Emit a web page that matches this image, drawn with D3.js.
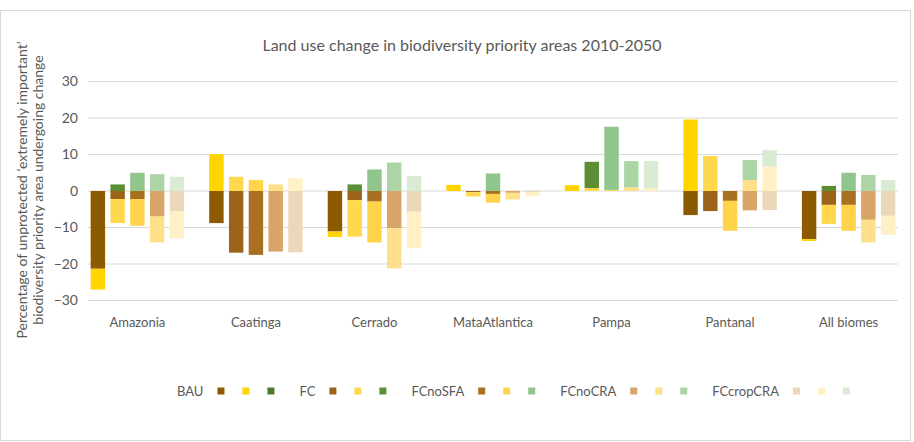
<html>
  <head>
    <meta charset="utf-8">
    <script src="https://d3js.org/d3.v7.min.js"></script>
    <style>
      body { margin: 0; background: #fff; }
      text { font-family: Lato, "Open Sans", sans-serif; fill: #595959; }
    </style>
  </head>

  <body>
    <svg id="vis"></svg>
  </body>

  <script>
    // Chart data (percent of area), one array per scenario and component, in biome order
    var biomes = ["Amazonia", "Caatinga", "Cerrado", "MataAtlantica", "Pampa", "Pantanal", "All biomes"]
    var scenarios = ["BAU", "FC", "FCnoSFA", "FCnoCRA", "FCcropCRA"]
    var components = ["cropland", "pasture", "vegetation"]
    var yTicks = [-30, -20, -10, 0, 10, 20, 30]

    var BAU_cropland       = [-21.3, -8.8, -11.1, 0, 0, -6.6, -13.2]
    var BAU_pasture        = [-5.7, 10.1, -1.5, 1.7, 1.6, 19.6, -0.5]
    var BAU_vegetation     = [0, 0, 0, 0, 0, 0, 0]

    var FC_cropland        = [-2.2, -16.9, -2.5, -0.3, 0, -5.5, -3.8]
    var FC_pasture         = [-6.6, 3.9, -10.0, -1.2, 0.8, 9.6, -5.2]
    var FC_vegetation      = [1.8, 0, 1.8, 0, 7.2, 0, 1.4]

    var FCnoSFA_cropland   = [-2.2, -17.5, -2.9, -0.8, 0, -2.7, -3.8]
    var FCnoSFA_pasture    = [-7.3, 3.0, -11.2, -2.4, 0.3, -8.2, -7.1]
    var FCnoSFA_vegetation = [5.0, 0, 5.9, 4.8, 17.3, 0, 5.0]

    var FCnoCRA_cropland   = [-7.0, -16.6, -10.2, -0.5, 0, -5.3, -7.9]
    var FCnoCRA_pasture    = [-7.1, 1.8, -11.0, -1.8, 1.0, 3.0, -6.2]
    var FCnoCRA_vegetation = [4.6, 0, 7.8, 0, 7.2, 5.5, 4.4]

    var FCcropCRA_cropland   = [-5.5, -16.8, -5.7, -0.3, 0, -5.2, -6.8]
    var FCcropCRA_pasture    = [-7.5, 3.5, -10.0, -1.1, 0.8, 6.7, -5.2]
    var FCcropCRA_vegetation = [3.9, 0, 4.1, 0, 7.4, 4.5, 3.0]

    var values = {
      BAU:       [BAU_cropland, BAU_pasture, BAU_vegetation],
      FC:        [FC_cropland, FC_pasture, FC_vegetation],
      FCnoSFA:   [FCnoSFA_cropland, FCnoSFA_pasture, FCnoSFA_vegetation],
      FCnoCRA:   [FCnoCRA_cropland, FCnoCRA_pasture, FCnoCRA_vegetation],
      FCcropCRA: [FCcropCRA_cropland, FCcropCRA_pasture, FCcropCRA_vegetation]
    }

    // colours: scenario -> [cropland, pasture, vegetation]
    var colors = {
      BAU:       ["#8c5a00", "#ffd400", "#4f7a28"],
      FC:        ["#9b6418", "#ffd84e", "#5c8f35"],
      FCnoSFA:   ["#a87020", "#ffd34a", "#90c68b"],
      FCnoCRA:   ["#d9a468", "#ffe08a", "#acd5a6"],
      FCcropCRA: ["#ebd8bb", "#fff0c6", "#d9ebd3"]
    }

    var width = 914, height = 442
    var plot = {left: 88, right: 898, top: 81.5, bottom: 300.5}

    var svg = d3.select('svg')
      .attr("width", width)
      .attr("height", height)

    // chart area border
    svg.append("rect")
      .attr("x", 0.5).attr("y", 10.5)
      .attr("width", 910).attr("height", 430)
      .attr("fill", "none")
      .attr("stroke", "#d9d9d9")

    // one row per bar
    var rows = []
    biomes.forEach(function(b, i) {
      scenarios.forEach(function(s) {
        var row = {key: b + "|" + s, biome: b, scenario: s}
        components.forEach(function(c, k) { row[c] = values[s][k][i] })
        rows.push(row)
      })
    })

    // x slots: 5 bars per biome plus one empty slot between biomes
    var slots = []
    biomes.forEach(function(b, i) {
      scenarios.forEach(function(s) { slots.push(b + "|" + s) })
      if (i < biomes.length - 1) slots.push("gap" + i)
    })

    var x = d3.scaleBand()
      .domain(slots)
      .range([plot.left, plot.right])
      .paddingInner(0.27)
      .paddingOuter(0.135)

    var y = d3.scaleLinear().domain([-30, 30]).range([plot.bottom, plot.top])

    // gridlines
    svg.append("g")
      .selectAll("line")
      .data(yTicks)
      .join("line")
      .attr("x1", plot.left).attr("x2", plot.right)
      .attr("y1", function(d) { return y(d) }).attr("y2", function(d) { return y(d) })
      .attr("stroke", "#d9d9d9")
      .attr("stroke-width", 1)

    // y axis labels
    var yAxis = svg.append("g")
      .attr("transform", "translate(" + (plot.left - 10) + ",0)")
      .call(d3.axisLeft(y).tickValues(yTicks).tickSize(0).tickPadding(0))
    yAxis.select(".domain").remove()
    yAxis.selectAll("text")
      .style("font-family", "Lato, sans-serif")
      .style("font-size", "14px")
      .attr("fill", "#595959")

    // stacked bars
    var stack = d3.stack().keys(components).offset(d3.stackOffsetDiverging)
    var series = stack(rows)

    var barsGroup = svg.append("g").attr("class", "bars")
    series.forEach(function(layer, k) {
      barsGroup.selectAll("rect.c" + k)
        .data(layer)
        .join("rect")
        .attr("class", "c" + k)
        .attr("x", function(d) { return x(d.data.key) })
        .attr("width", x.bandwidth())
        .attr("y", function(d) { return y(Math.max(d[0], d[1])) })
        .attr("height", function(d) { return Math.abs(y(d[0]) - y(d[1])) })
        .attr("fill", function(d) { return colors[d.data.scenario][k] })
    })

    // biome labels, centred under each group of bars
    svg.append("g")
      .selectAll("text")
      .data(biomes)
      .join("text")
      .attr("x", function(b) {
        return (x(b + "|" + scenarios[0]) + x(b + "|" + scenarios[scenarios.length - 1]) + x.bandwidth()) / 2
      })
      .attr("y", 327)
      .attr("text-anchor", "middle")
      .style("font-size", "13px")
      .text(function(b) { return b })

    // title
    svg.append("text")
      .attr("x", 462)
      .attr("y", 51)
      .attr("text-anchor", "middle")
      .style("font-size", "16px")
      .text("Land use change in biodiversity priority areas 2010-2050")

    // y axis title (two lines)
    var yTitle = ["Percentage of unprotected 'extremely important'", "biodiversity priority area undergoing change"]
    svg.append("g")
      .selectAll("text")
      .data(yTitle)
      .join("text")
      .attr("transform", function(d, i) { return "translate(" + (27 + i * 16) + ",190) rotate(-90)" })
      .attr("text-anchor", "middle")
      .style("font-size", "14px")
      .text(function(d) { return d })

    // legend: scenario name followed by its three swatches
    var legend = svg.append("g").attr("class", "legend")
    var lx = 177, ly = 391
    scenarios.forEach(function(s) {
      var t = legend.append("text")
        .attr("x", lx).attr("y", ly + 4.5)
        .style("font-size", "13px")
        .text(s)
      lx += t.node().getComputedTextLength() + 14
      components.forEach(function(c, k) {
        legend.append("rect")
          .attr("x", lx).attr("y", ly - 3.5)
          .attr("width", 7).attr("height", 7)
          .attr("fill", colors[s][k])
        lx += k < components.length - 1 ? 25 : 7 + 25
      })
    })
  </script>
</html>
